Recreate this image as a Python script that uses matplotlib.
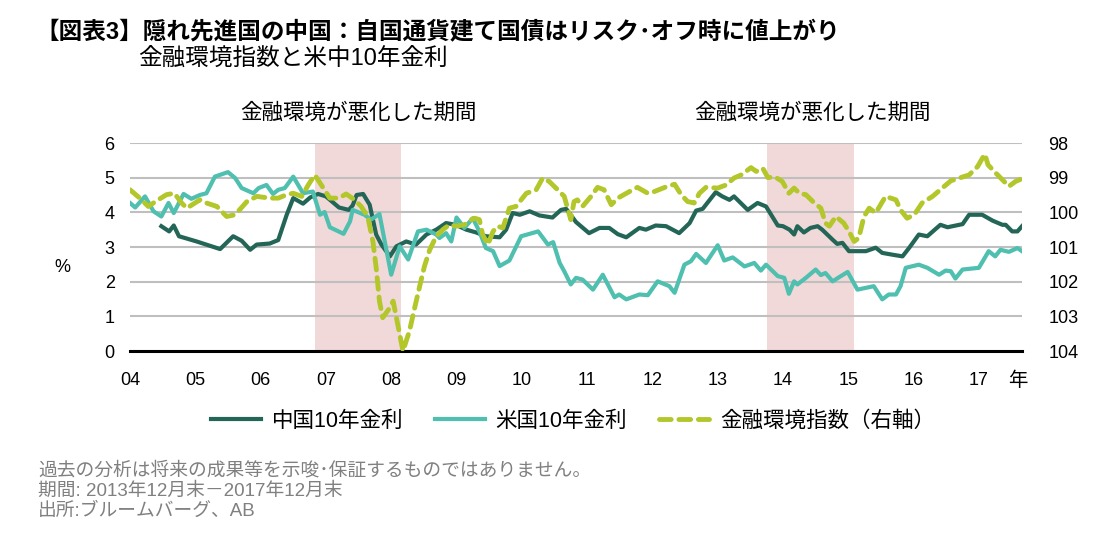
import matplotlib
matplotlib.use("Agg")
import matplotlib.pyplot as plt
from matplotlib.lines import Line2D

plt.rcParams['font.family'] = ['Liberation Sans', 'Noto Sans CJK JP', 'DejaVu Sans']

# China 10y yield (%)
cn_t = [2004.48, 2004.60, 2004.67, 2004.75, 2005.02, 2005.38, 2005.58, 2005.71, 2005.84, 2005.94,
        2006.14, 2006.27, 2006.40, 2006.50, 2006.65, 2006.76, 2006.88, 2007.00, 2007.20, 2007.35,
        2007.41, 2007.47, 2007.57, 2007.67, 2007.77, 2007.85, 2007.98, 2008.08, 2008.23, 2008.38,
        2008.54, 2008.69, 2008.84, 2008.99, 2009.15, 2009.30, 2009.45, 2009.66, 2009.76, 2009.86,
        2009.97, 2010.12, 2010.27, 2010.47, 2010.60, 2010.68, 2010.83, 2011.03, 2011.19, 2011.34,
        2011.47, 2011.60, 2011.80, 2011.90, 2012.05, 2012.21, 2012.41, 2012.57, 2012.67, 2012.77,
        2012.97, 2013.07, 2013.18, 2013.25, 2013.46, 2013.61, 2013.74, 2013.92, 2014.00, 2014.10,
        2014.17, 2014.22, 2014.32, 2014.42, 2014.53, 2014.60, 2014.76, 2014.83, 2014.91, 2015.01,
        2015.27, 2015.42, 2015.52, 2015.67, 2015.83, 2015.93, 2016.08, 2016.21, 2016.41, 2016.52,
        2016.75, 2016.85, 2017.05, 2017.21, 2017.36, 2017.41, 2017.51, 2017.59, 2017.66]
cn_v = [3.60, 3.45, 3.62, 3.31, 3.16, 2.94, 3.31, 3.18, 2.92, 3.07,
        3.10, 3.20, 3.93, 4.41, 4.25, 4.43, 4.53, 4.46, 4.14, 4.07,
        4.20, 4.50, 4.53, 4.22, 3.36, 3.07, 2.73, 3.02, 3.16, 3.07,
        3.36, 3.50, 3.69, 3.64, 3.50, 3.42, 3.31, 3.28, 3.50, 3.98,
        3.93, 4.03, 3.91, 3.85, 4.07, 4.10, 3.72, 3.40, 3.55, 3.55,
        3.37, 3.28, 3.55, 3.50, 3.62, 3.60, 3.40, 3.69, 4.05, 4.10,
        4.58, 4.46, 4.36, 4.46, 4.07, 4.27, 4.17, 3.62, 3.60, 3.50,
        3.36, 3.60, 3.42, 3.55, 3.60, 3.50, 3.21, 3.09, 3.12, 2.88,
        2.88, 2.98, 2.83, 2.78, 2.73, 2.97, 3.36, 3.31, 3.64, 3.57,
        3.66, 3.93, 3.93, 3.76, 3.64, 3.64, 3.45, 3.45, 3.60]

# US 10y yield (%)
us_t = [2004.00, 2004.08, 2004.23, 2004.36, 2004.48, 2004.59, 2004.67, 2004.82, 2004.94, 2005.07,
        2005.17, 2005.30, 2005.50, 2005.61, 2005.71, 2005.89, 2005.97, 2006.09, 2006.19, 2006.27,
        2006.37, 2006.50, 2006.65, 2006.80, 2006.91, 2006.98, 2007.06, 2007.27, 2007.37, 2007.41,
        2007.59, 2007.69, 2007.82, 2008.00, 2008.13, 2008.26, 2008.41, 2008.54, 2008.69, 2008.74,
        2008.84, 2008.92, 2009.00, 2009.12, 2009.25, 2009.35, 2009.45, 2009.56, 2009.66, 2009.81,
        2009.99, 2010.25, 2010.40, 2010.48, 2010.58, 2010.65, 2010.75, 2010.83, 2010.93, 2011.09,
        2011.24, 2011.42, 2011.49, 2011.60, 2011.80, 2011.93, 2012.08, 2012.26, 2012.34, 2012.49,
        2012.59, 2012.67, 2012.82, 2013.00, 2013.10, 2013.23, 2013.41, 2013.56, 2013.66, 2013.74,
        2013.92, 2014.02, 2014.09, 2014.17, 2014.22, 2014.35, 2014.50, 2014.58, 2014.65, 2014.76,
        2014.86, 2014.99, 2015.14, 2015.39, 2015.52, 2015.62, 2015.73, 2015.80, 2015.88, 2016.08,
        2016.21, 2016.39, 2016.49, 2016.57, 2016.64, 2016.75, 2017.00, 2017.15, 2017.25, 2017.33,
        2017.46, 2017.59, 2017.66]
us_v = [4.27, 4.14, 4.46, 4.03, 3.88, 4.27, 3.98, 4.53, 4.39, 4.50,
        4.55, 5.03, 5.16, 4.99, 4.70, 4.55, 4.70, 4.79, 4.53, 4.65,
        4.70, 5.03, 4.55, 4.60, 3.93, 4.01, 3.57, 3.38, 3.74, 4.07,
        3.93, 3.79, 3.95, 2.20, 3.02, 2.64, 3.45, 3.50, 3.36, 3.26,
        3.40, 3.16, 3.85, 3.55, 3.83, 3.45, 2.97, 2.88, 2.45, 2.61,
        3.31, 3.45, 3.07, 3.14, 2.54, 2.30, 1.92, 2.11, 2.06, 1.77,
        2.20, 1.55, 1.63, 1.49, 1.63, 1.61, 2.01, 1.87, 1.68, 2.49,
        2.59, 2.80, 2.54, 3.05, 2.61, 2.70, 2.44, 2.54, 2.32, 2.49,
        2.16, 2.11, 1.65, 2.01, 1.92, 2.11, 2.35, 2.19, 2.25, 2.01,
        2.13, 2.28, 1.77, 1.87, 1.49, 1.63, 1.63, 1.87, 2.40, 2.49,
        2.40, 2.20, 2.32, 2.30, 2.09, 2.35, 2.40, 2.88, 2.73, 2.92,
        2.86, 2.97, 2.88]

# financial conditions index (right axis, inverted)
fci_t = [2004.00, 2004.15, 2004.28, 2004.43, 2004.56, 2004.68, 2004.79, 2004.87, 2005.07, 2005.17,
         2005.33, 2005.48, 2005.61, 2005.79, 2005.94, 2006.14, 2006.27, 2006.40, 2006.50, 2006.63,
         2006.73, 2006.83, 2006.93, 2007.06, 2007.20, 2007.31, 2007.44, 2007.54, 2007.64, 2007.72,
         2007.77, 2007.82, 2007.87, 2007.98, 2008.03, 2008.10, 2008.18, 2008.28, 2008.36, 2008.43,
         2008.51, 2008.59, 2008.69, 2008.79, 2008.89, 2008.99, 2009.12, 2009.23, 2009.28, 2009.35,
         2009.40, 2009.48, 2009.56, 2009.63, 2009.71, 2009.81, 2009.91, 2010.07, 2010.22, 2010.32,
         2010.42, 2010.55, 2010.65, 2010.75, 2010.80, 2010.85, 2010.93, 2011.06, 2011.16, 2011.26,
         2011.37, 2011.47, 2011.65, 2011.77, 2011.93, 2012.03, 2012.23, 2012.34, 2012.44, 2012.54,
         2012.64, 2012.72, 2012.82, 2013.00, 2013.13, 2013.25, 2013.36, 2013.51, 2013.59, 2013.69,
         2013.77, 2013.87, 2013.99, 2014.09, 2014.17, 2014.25, 2014.35, 2014.48, 2014.58, 2014.65,
         2014.71, 2014.81, 2014.93, 2015.01, 2015.09, 2015.16, 2015.24, 2015.32, 2015.42, 2015.57,
         2015.73, 2015.80, 2015.90, 2016.01, 2016.13, 2016.29, 2016.44, 2016.57, 2016.70, 2016.85,
         2016.98, 2017.09, 2017.14, 2017.26, 2017.36, 2017.46, 2017.56, 2017.66]
fci_v = [99.35, 99.59, 99.83, 99.64, 99.49, 99.45, 99.73, 99.88, 99.64, 99.73,
         99.83, 100.12, 100.07, 99.69, 99.54, 99.59, 99.59, 99.49, 99.45, 99.54,
         99.21, 98.92, 99.21, 99.59, 99.59, 99.47, 99.64, 99.83, 100.12, 100.84,
         101.60, 102.56, 103.04, 102.75, 102.56, 103.23, 104.00, 103.42, 102.75, 102.18,
         101.55, 101.08, 100.69, 100.50, 100.36, 100.40, 100.36, 100.21, 100.17, 100.21,
         100.64, 100.93, 100.55, 100.40, 100.45, 99.88, 99.83, 99.45, 99.35, 99.01,
         99.11, 99.35, 99.54, 100.21, 99.69, 99.64, 99.83, 99.54, 99.28, 99.35,
         99.78, 99.59, 99.40, 99.28, 99.45, 99.40, 99.25, 99.19, 99.49, 99.69,
         99.73, 99.45, 99.28, 99.30, 99.21, 99.01, 98.92, 98.71, 98.82, 98.73,
         99.00, 98.97, 99.11, 99.45, 99.30, 99.45, 99.49, 99.73, 99.88, 100.31,
         100.40, 100.12, 100.31, 100.55, 100.84, 100.74, 100.12, 99.88, 100.02, 99.54,
         99.64, 99.93, 100.17, 100.07, 99.73, 99.54, 99.30, 99.09, 99.01, 98.92,
         98.68, 98.32, 98.63, 98.87, 99.06, 99.25, 99.11, 99.03]

# periods of tightening financial conditions
shade_periods = [(2006.83, 2008.15), (2013.76, 2015.08)]
years = list(range(2004, 2018))
year_labels = ['%02d' % (y % 100) for y in years]

c_cn = '#236657'
c_us = '#4fbfb0'
c_fci = '#b3c72b'

W, H = 1108, 552
fig = plt.figure(figsize=(W / 100, H / 100), dpi=100)
ax = fig.add_axes([130 / W, 1 - 351 / H, (1022 - 130) / W, (351 - 143) / H])
ax2 = ax.twinx()

for a, b in shade_periods:
    ax.axvspan(a, b, color='#f2d9d9', lw=0, zorder=0)

ax.set_ylim(0, 6)
ax.set_xlim(2004, 2017.66)
ax.set_yticks(range(0, 7))
ax.yaxis.grid(True, color='#bfbfbf', lw=1.5)
ax.set_axisbelow(True)
ax.set_xticks(years)
ax.set_xticklabels(year_labels)
ax.tick_params(length=0, labelsize=13, pad=11)
ax.tick_params(axis='x', pad=15)

ax2.set_ylim(104, 98)
ax2.set_yticks(range(98, 105))
ax2.tick_params(length=0, labelsize=13, pad=19)

for a in (ax, ax2):
    for s in a.spines.values():
        s.set_visible(False)
ax.spines['bottom'].set_visible(True)
ax.spines['bottom'].set_linewidth(2.2)
ax.spines['bottom'].set_color('black')
ax.spines['bottom'].set_zorder(5)

ax.plot(cn_t, cn_v, color=c_cn, lw=3, solid_joinstyle='round', zorder=3)
ax.plot(us_t, us_v, color=c_us, lw=3, solid_joinstyle='round', zorder=3)
ax2.plot(fci_t, fci_v, color=c_fci, lw=3.5, dashes=(2.4, 1.6), dash_capstyle='round', zorder=3)

def ftext(x, y, s, **kw):
    fig.text(x / W, 1 - y / H, s, **kw)

ftext(35, 32, '【図表3】隠れ先進国の中国：自国通貨建て国債はリスク･オフ時に値上がり',
      fontsize=17, fontweight='bold', va='center', ha='left')
ftext(138, 59, '金融環境指数と米中10年金利', fontsize=17, va='center', ha='left')
ftext(358, 113, '金融環境が悪化した期間', fontsize=15.5, va='center', ha='center')
ftext(812, 113, '金融環境が悪化した期間', fontsize=15.5, va='center', ha='center')
ftext(62, 268, '%', fontsize=13, va='center', ha='center')
ftext(1018, 381, '年', fontsize=14, va='center', ha='center')

handles = [Line2D([], [], color=c_cn, lw=3),
           Line2D([], [], color=c_us, lw=3),
           Line2D([], [], color=c_fci, lw=3.5, dashes=(2.4, 1.6), dash_capstyle='round')]
labels = ['中国10年金利', '米国10年金利', '金融環境指数（右軸）']
fig.legend(handles, labels, loc='center', bbox_to_anchor=(573 / W, 1 - 421 / H), ncol=3,
           frameon=False, fontsize=15.5, handlelength=2.3, columnspacing=1.5, handletextpad=0.5)

notes = ['過去の分析は将来の成果等を示唆･保証するものではありません。',
         '期間: 2013年12月末－2017年12月末',
         '出所:ブルームバーグ、AB']
for i, s in enumerate(notes):
    ftext(38, 471 + 20 * i, s, fontsize=13.5, color='#808080', va='center', ha='left')

fig.savefig('out.png', dpi=100)
